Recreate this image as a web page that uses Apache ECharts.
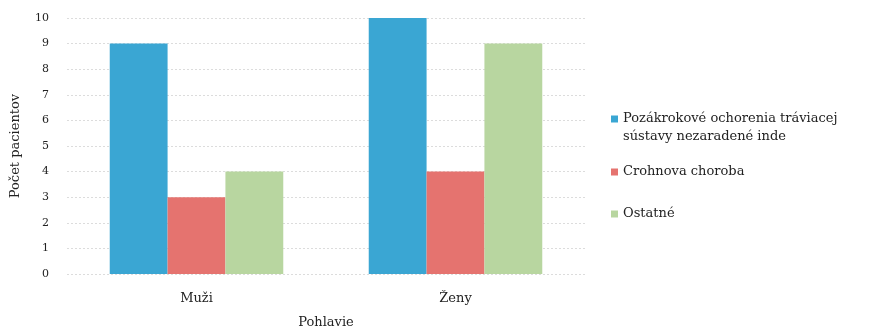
<!DOCTYPE html>
<html>
<head>
<meta charset="utf-8">
<script src="https://cdn.jsdelivr.net/npm/echarts@6/dist/echarts.min.js"></script>
<style>
  html, body { margin: 0; padding: 0; background: #ffffff; }
  #chart { width: 871px; height: 329px; }
</style>
</head>
<body>
<div id="chart"></div>
<script>
// Patients by sex and diagnosis group
const categories = ['Muži', 'Ženy'];
const seriesNames = [
  'Pozákrokové ochorenia tráviacej\nsústavy nezaradené inde',
  'Crohnova choroba',
  'Ostatné'
];
const postProcedural = [9, 10];
const crohn = [3, 4];
const other = [4, 9];
const yTicks = [0, 1, 2, 3, 4, 5, 6, 7, 8, 9, 10];

const colors = ['#3aa6d3', '#e5736f', '#b8d6a0'];
const font = 'DejaVu Serif';
const textColor = '#222222';

const chart = echarts.init(document.getElementById('chart'), null, { renderer: 'canvas' });

const legendText = { fontFamily: font, fontSize: 13, color: textColor, lineHeight: 18 };
const legendBase = {
  orient: 'vertical',
  left: 606,
  itemWidth: 7,
  itemHeight: 7,
  icon: 'rect',
  itemGap: 0,
  textStyle: legendText,
  // the two-line label keeps its marker beside the first line:
  // a blank leading line centres the block on that line
  formatter: name => (name.indexOf('\n') >= 0 ? ' \n' + name : name)
};

chart.setOption({
  animation: false,
  color: colors,
  grid: { left: 67, right: 286, top: 18, bottom: 55, outerBoundsMode: 'none' },
  legend: [
    Object.assign({}, legendBase, { top: 87, data: [seriesNames[0]] }),
    Object.assign({}, legendBase, { top: 158, data: [seriesNames[1]] }),
    Object.assign({}, legendBase, { top: 200, data: [seriesNames[2]] })
  ],
  xAxis: {
    type: 'category',
    data: categories,
    name: 'Pohlavie',
    nameLocation: 'middle',
    nameGap: 42,
    nameTextStyle: { fontFamily: font, fontSize: 13, color: textColor },
    axisLine: { show: false },
    axisTick: { show: false },
    axisLabel: { fontFamily: font, fontSize: 13, color: textColor, margin: 18 }
  },
  yAxis: {
    type: 'value',
    min: yTicks[0],
    max: yTicks[yTicks.length - 1],
    interval: 1,
    name: 'Počet pacientov',
    nameLocation: 'middle',
    nameGap: 45,
    nameTextStyle: { fontFamily: font, fontSize: 13, color: textColor },
    axisLine: { show: false },
    axisTick: { show: false },
    axisLabel: { fontFamily: font, fontSize: 11, color: textColor, margin: 18 },
    splitLine: { lineStyle: { color: '#dcdcdc', type: [2, 2], width: 1 } }
  },
  series: [
    { name: seriesNames[0], type: 'bar', data: postProcedural, barGap: '0%', barCategoryGap: '33%' },
    { name: seriesNames[1], type: 'bar', data: crohn, barGap: '0%', barCategoryGap: '33%' },
    { name: seriesNames[2], type: 'bar', data: other, barGap: '0%', barCategoryGap: '33%' }
  ]
});
</script>
</body>
</html>
